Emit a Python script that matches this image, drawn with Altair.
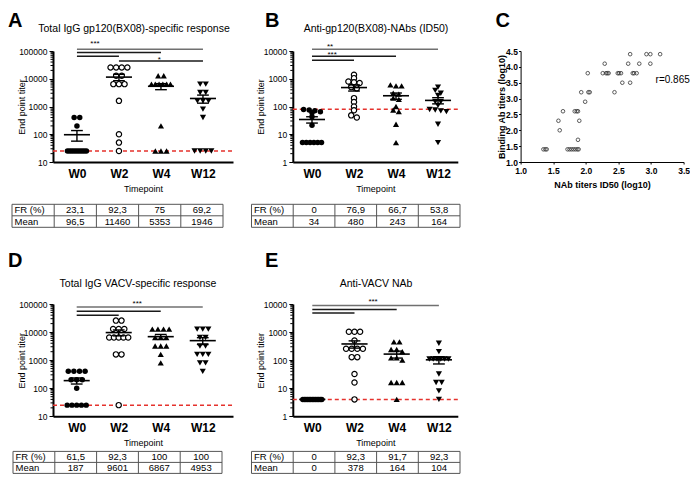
import math
import numpy as np
import pandas as pd
import altair as alt

FONT = "Liberation Sans"

timepoints = ["W0", "W2", "W4", "W12"]
row_labels = ["FR (%)", "Mean"]

# ---------------- Panel A : Total IgG gp120(BX08)-specific response
a_title = "Total IgG gp120(BX08)-specific  response"
a_w0 = [400, 400, 200, 25, 25, 25, 25, 25, 25, 25, 25, 25, 25]
a_w2 = [25600, 25600, 25600, 25600, 12800, 12800, 6400, 6400, 6400, 1600, 100, 50, 25]
a_w4 = [12800, 12800, 6400, 6400, 6400, 6400, 6400, 6400, 200, 25, 25, 25]
a_w12 = [6400, 6400, 3200, 3200, 1600, 1600, 1600, 800, 400, 25, 25, 25, 25]
a_cutoff = 25
a_fr = ["23,1", "92,3", "75", "69,2"]
a_mean = ["96,5", "11460", "5353", "1946"]
a_pairs = [(0, 3), (0, 2), (0, 1), (1, 3)]
a_stars = ["***", "*"]

# ---------------- Panel B : Anti-gp120(BX08)-NAbs (ID50)
b_title = "Anti-gp120(BX08)-NAbs (ID50)"
b_w0 = [78, 75, 70, 65, 60, 43, 21, 5, 5, 5, 5, 5, 5]
b_w2 = [1400, 1050, 800, 750, 700, 500, 450, 200, 145, 100, 73, 48, 40]
b_w4 = [600, 550, 550, 300, 280, 200, 180, 100, 75, 65, 23, 5]
b_w12 = [500, 380, 300, 250, 150, 150, 110, 78, 75, 70, 65, 23, 5]
b_cutoff = 80
b_fr = ["0", "76,9", "66,7", "53,8"]
b_mean = ["34", "480", "243", "164"]
b_pairs = [(0, 3), (0, 2), (0, 1)]
b_stars = ["**", "***"]

# ---------------- Panel C : correlation
c_nab = [1.35, 1.38, 1.40, 1.58, 1.60, 1.65, 1.72, 1.75, 1.78, 1.81, 1.84, 1.87, 1.89,
         1.83, 1.86, 1.88, 1.88, 1.90, 1.93, 1.99, 2.03, 2.04, 2.06, 2.26, 2.29, 2.31,
         2.33, 2.35, 2.44, 2.49, 2.51, 2.54, 2.56, 2.65, 2.68, 2.68, 2.72, 2.74, 2.78,
         2.82, 2.93, 2.99, 2.99, 3.14]
c_bind = [1.4, 1.4, 1.4, 2.3, 2.0, 2.6, 1.4, 1.4, 1.4, 1.4, 1.4, 1.4, 1.4,
          2.6, 2.6, 2.6, 1.7, 2.3, 3.2, 2.9, 3.8, 3.2, 3.2, 3.8, 4.1, 3.8,
          3.8, 3.8, 3.2, 3.8, 3.8, 3.8, 3.5, 4.1, 4.4, 3.5, 3.8, 3.8, 3.8,
          4.1, 4.4, 4.4, 4.1, 4.4]
c_r_text = "r=0.865"

# ---------------- Panel D : Total IgG VACV-specific response
d_title = "Total IgG VACV-specific  response"
d_w0 = [400, 400, 400, 400, 200, 200, 200, 100, 25, 25, 25, 25, 25]
d_w2 = [25600, 25600, 12800, 12800, 12800, 6400, 6400, 6400, 6400, 6400, 1600, 1600, 25]
d_w4 = [12800, 12800, 12800, 12800, 6400, 6400, 6400, 3200, 3200, 3200, 1600, 800]
d_w12 = [12800, 12800, 12800, 6400, 6400, 3200, 3200, 1600, 1600, 1600, 800, 800, 400]
d_cutoff = 25
d_fr = ["61,5", "92,3", "100", "100"]
d_mean = ["187", "9601", "6867", "4953"]
d_pairs = [(0, 3), (0, 2), (0, 1)]
d_stars = ["***"]

# ---------------- Panel E : Anti-VACV NAb
e_title = "Anti-VACV NAb"
e_w0 = [4, 4, 4, 4, 4, 4, 4, 4, 4, 4, 4, 4, 4]
e_w2 = [1024, 1024, 1024, 500, 256, 256, 256, 256, 128, 128, 32, 16, 4]
e_w4 = [450, 450, 240, 240, 200, 120, 120, 100, 16, 16, 16, 4]
e_w12 = [400, 200, 110, 110, 110, 110, 110, 110, 32, 16, 16, 8, 4]
e_cutoff = 4
e_fr = ["0", "92,3", "91,7", "92,3"]
e_mean = ["0", "378", "164", "104"]
e_pairs = [(0, 3), (0, 2), (0, 1)]
e_stars = ["***"]

# ---------------- layout (page pixels) -------------------------------------
COL_X = [53.0, 292.8, 520.0]        # plot origins of the three grid columns
COL_SP = 59.8
ROW_SP = 20.0
Y0, H0 = 50.7, 111.0                 # row of A, B, C
Y1, H1 = Y0 + H0 + ROW_SP, 101.1     # tables A, B
Y2, H2 = Y1 + H1 + ROW_SP, 112.3     # row of D, E
Y3, H3 = Y2 + H2 + ROW_SP, 36.9      # tables D, E
TOP_LETTER_Y = 10.5

LAY = {
    "A": dict(ox=COL_X[0], oy=Y0, w=180.0, h=H0, xdom=[-0.57, 3.715], ydom=[10, 100000],
              letter=(8, TOP_LETTER_Y), title=(134, 28.5), corner=True,
              sig_y=[115000, 87600, 64400, 43700], star_x=[0.43, 1.96], star_y=[146000, 41500]),
    "B": dict(ox=COL_X[1], oy=Y0, w=165.0, h=H0, xdom=[-0.457, 3.471], ydom=[1, 10000],
              letter=(265, TOP_LETTER_Y), title=(376, 28.5), corner=False,
              sig_y=[11500, 6450, 4630], star_x=[0.43, 0.48], star_y=[12200, 5990]),
    "D": dict(ox=COL_X[0], oy=Y2, w=180.0, h=H2, xdom=[-0.564, 3.72], ydom=[10, 100000],
              letter=(8, 250), title=(138, 282.5), corner=False,
              sig_y=[78900, 55400, 39900], star_x=[1.44], star_y=[86300]),
    "E": dict(ox=COL_X[1], oy=Y2, w=165.0, h=H2, xdom=[-0.462, 3.448], ydom=[1, 10000],
              letter=(265, 250), title=(376, 282.5), corner=False,
              sig_y=[8840, 6370, 4820], star_x=[1.44], star_y=[9920]),
}

SHAPES = ["circle", "circle", "triangle-up", "triangle-down"]
SIZES = [30, 30, 38, 38]


def swarm_offsets(vals, ppd, ppu, spacing=5.6, maxspan=19.0, tol=3.0):
    order = sorted(range(len(vals)), key=lambda i: -vals[i])
    rows = []
    for i in order:
        py = math.log10(vals[i]) * ppd
        if rows and abs(rows[-1][0] - py) <= tol:
            rows[-1][1].append(i)
        else:
            rows.append([py, [i]])
    off = [0.0] * len(vals)
    for _, members in rows:
        n = len(members)
        s = spacing if n <= 1 else min(spacing, maxspan / (n - 1))
        for k, i in enumerate(members):
            off[i] = (k - (n - 1) / 2) * s / ppu
    return off


def text_layer(txt, x, y, **kw):
    return alt.Chart(pd.DataFrame({"t": [txt]})).mark_text(font=FONT, color="black", **kw).encode(
        x=alt.value(x), y=alt.value(y), text="t:N")


def log_panel(key, letter, title, series, cutoff, pairs, stars):
    L = LAY[key]
    ox, oy, w, h = L["ox"], L["oy"], L["w"], L["h"]
    xmin, xmax = L["xdom"]
    ylo, yhi = L["ydom"]
    ppu = w / (xmax - xmin)
    ppd = h / (math.log10(yhi) - math.log10(ylo))

    lab_expr = "[" + ",".join("'%s'" % t for t in timepoints) + "][datum.value]"
    xe = alt.X("xpos:Q", scale=alt.Scale(domain=[xmin, xmax], nice=False, zero=False),
               axis=alt.Axis(values=[0, 1, 2, 3], labelExpr=lab_expr, title="Timepoint", grid=False,
                             ticks=False, domainColor="black", domainWidth=2, labelColor="black",
                             labelFont=FONT, labelFontSize=12, labelFontWeight="bold", labelPadding=6,
                             labelFlush=False, labelOverlap=False, titleFont=FONT, titleFontSize=9,
                             titleFontWeight="normal", titleColor="black", titlePadding=5))
    majors = []
    v = ylo
    while v <= yhi:
        majors.append(v)
        v *= 10
    minors = [m * k for m in majors[:-1] for k in range(2, 10)]
    ye = alt.Y("val:Q", scale=alt.Scale(type="log", domain=[ylo, yhi], nice=False),
               axis=alt.Axis(values=majors, format="d", title="End point titer", grid=False,
                             tickSize=4, tickColor="black", domainColor="black", domainWidth=2,
                             labelColor="black", labelFont=FONT, labelFontSize=8.5, labelPadding=2,
                             labelOverlap=False, labelFlush=False, titleFont=FONT, titleFontSize=9,
                             titleFontWeight="normal", titleColor="black", titleX=-27, titleY=h / 2,
                             titleBaseline="bottom", titleAngle=270))

    layers = []
    if L["corner"]:
        # invisible 1px mark fixing the top-left corner of the whole figure
        layers.append(alt.Chart(pd.DataFrame({"a": [0]})).mark_rect(opacity=0).encode(
            x=alt.value(8 - ox), x2=alt.value(9 - ox), y=alt.value(8 - oy), y2=alt.value(9 - oy)))
    layers.append(alt.Chart(pd.DataFrame({"val": minors})).mark_rule(color="black", strokeWidth=1).encode(
        y=ye, x=alt.value(-2.5), x2=alt.value(0)))
    layers.append(alt.Chart(pd.DataFrame({"val": [cutoff]})).mark_rule(
        color="#e5322d", strokeDash=[4, 3], strokeWidth=1.5).encode(y=ye, x=alt.value(0), x2=alt.value(w)))

    mrows, erows, crows = [], [], []
    for gi, (tp, vals) in enumerate(zip(timepoints, series)):
        offs = swarm_offsets(vals, ppd, ppu)
        df = pd.DataFrame({"xpos": [gi + o for o in offs], "val": vals})
        if gi == 1:
            mk = alt.Chart(df).mark_point(shape="circle", size=28, filled=True, fill="white",
                                          stroke="black", strokeWidth=1.2, opacity=1)
        else:
            mk = alt.Chart(df).mark_point(shape=SHAPES[gi], size=SIZES[gi], filled=True,
                                          color="black", opacity=1)
        layers.append(mk.encode(x=xe, y=ye))
        arr = np.array(vals, dtype=float)
        m = arr.mean()
        se = arr.std(ddof=1) / math.sqrt(len(arr))
        lo = max(m - se, ylo)
        mrows.append({"xpos": gi - 0.31, "xpos2": gi + 0.31, "val": m})
        erows.append({"xpos": gi, "val": lo, "val2": m + se})
        crows.append({"xpos": gi - 0.14, "xpos2": gi + 0.14, "val": lo})
        crows.append({"xpos": gi - 0.14, "xpos2": gi + 0.14, "val": m + se})

    layers.append(alt.Chart(pd.DataFrame(mrows)).mark_rule(color="black", strokeWidth=1.6).encode(
        x=xe, x2="xpos2:Q", y=ye))
    layers.append(alt.Chart(pd.DataFrame(erows)).mark_rule(color="black", strokeWidth=1.4).encode(
        x=xe, y=ye, y2="val2:Q"))
    layers.append(alt.Chart(pd.DataFrame(crows)).mark_rule(color="black", strokeWidth=1.4).encode(
        x=xe, x2="xpos2:Q", y=ye))

    sig = pd.DataFrame({"xpos": [p[0] for p in pairs], "xpos2": [p[1] for p in pairs],
                        "val": L["sig_y"]})
    layers.append(alt.Chart(sig.iloc[:1]).mark_rule(color="#707070", strokeWidth=1.5).encode(
        x=xe, x2="xpos2:Q", y=ye))
    layers.append(alt.Chart(sig.iloc[1:]).mark_rule(color="#1a1a1a", strokeWidth=1.5).encode(
        x=xe, x2="xpos2:Q", y=ye))
    st = pd.DataFrame({"xpos": L["star_x"], "val": L["star_y"], "t": stars})
    layers.append(alt.Chart(st).mark_text(font=FONT, fontSize=8, color="black", align="center",
                                          baseline="alphabetic").encode(x=xe, y=ye, text="t:N"))

    lx, ly = L["letter"]
    layers.append(text_layer(letter, lx - ox, ly - oy, fontSize=20, fontWeight="bold",
                             align="left", baseline="top"))
    tx, ty = L["title"]
    layers.append(text_layer(title, tx - ox, ty - oy, fontSize=10.5, align="center",
                             baseline="middle"))
    return alt.layer(*layers).properties(width=w, height=h)


def table_chart(fr, mean, ox, oy, W, H, left, right, top, row_h):
    # left/right/top: page pixels of the table border; cell origin (ox, oy)
    k = (right - left) / 5.0
    d0 = -(left - ox) / k
    e0 = -(top - oy) / row_h
    xs = alt.Scale(domain=[d0, d0 + W / k], nice=False, zero=False)
    ys = alt.Scale(domain=[e0, e0 + H / row_h], nice=False, zero=False, reverse=True)
    hdf = pd.DataFrame({"x": [0, 0, 0], "x2": [5, 5, 5], "y": [0, 1, 2]})
    vdf = pd.DataFrame({"x": [0, 1, 2, 3, 4, 5], "y": [0] * 6, "y2": [2] * 6})
    lab = pd.DataFrame({"x": [0, 0], "y": [0.5, 1.5], "t": row_labels})
    vals = pd.DataFrame({"x": [1.5, 2.5, 3.5, 4.5] * 2, "y": [0.5] * 4 + [1.5] * 4, "t": fr + mean})
    X = alt.X("x:Q", scale=xs, axis=None)
    Y = alt.Y("y:Q", scale=ys, axis=None)
    layers = [
        alt.Chart(hdf).mark_rule(color="#555", strokeWidth=1).encode(x=X, x2="x2:Q", y=Y),
        alt.Chart(vdf).mark_rule(color="#555", strokeWidth=1).encode(x=X, y=Y, y2="y2:Q"),
        alt.Chart(lab).mark_text(font=FONT, fontSize=9.5, color="black", align="left", dx=2.5,
                                 baseline="middle").encode(x=X, y=Y, text="t:N"),
        alt.Chart(vals).mark_text(font=FONT, fontSize=9.5, color="black", align="center",
                                  baseline="middle").encode(x=X, y=Y, text="t:N"),
    ]
    return alt.layer(*layers).properties(width=W, height=H)


def corr_panel():
    ox, oy, w, h = COL_X[2], Y0, 163.0, H0
    ticks_x = [1.0, 1.5, 2.0, 2.5, 3.0, 3.5]
    ticks_y = [1.0, 1.5, 2.0, 2.5, 3.0, 3.5, 4.0, 4.5]
    xe = alt.X("cx:Q", scale=alt.Scale(domain=[1.0, 3.5], nice=False, zero=False),
               axis=alt.Axis(values=ticks_x, format=".1f", title="NAb titers ID50 (log10)", grid=False,
                             tickSize=2, tickColor="black", domainColor="black", domainWidth=1,
                             labelColor="black", labelFont=FONT, labelFontSize=8.5,
                             labelFontWeight="bold", labelPadding=2.5, labelFlush=False,
                             labelOverlap=False, titleFont=FONT, titleFontSize=9,
                             titleFontWeight="bold", titleColor="black", titlePadding=5))
    ye = alt.Y("cy:Q", scale=alt.Scale(domain=[1.0, 4.5], nice=False, zero=False),
               axis=alt.Axis(values=ticks_y, format=".1f", title="Binding Ab titers (log10)", grid=False,
                             tickSize=2, tickColor="black", domainColor="black", domainWidth=1,
                             labelColor="black", labelFont=FONT, labelFontSize=8.5,
                             labelFontWeight="bold", labelPadding=1.2, labelFlush=False,
                             labelOverlap=False, titleFont=FONT, titleFontSize=9,
                             titleFontWeight="bold", titleColor="black", titleX=-14.5, titleY=h / 2,
                             titleBaseline="bottom", titleAngle=270))
    pts = pd.DataFrame({"cx": c_nab, "cy": c_bind})
    layers = [
        alt.Chart(pts).mark_point(shape="circle", size=13, filled=False, color="#333",
                                  strokeWidth=0.8, opacity=1).encode(x=xe, y=ye),
        alt.Chart(pd.DataFrame({"cx": [3.07], "cy": [3.576], "t": [c_r_text]})).mark_text(
            font=FONT, fontSize=10, color="black", align="left", baseline="middle").encode(
            x=xe, y=ye, text="t:N"),
        text_layer("C", 495 - ox, TOP_LETTER_Y - oy, fontSize=20, fontWeight="bold",
                   align="left", baseline="top"),
    ]
    return alt.layer(*layers).properties(width=w, height=h)


def spacer():
    return alt.Chart(pd.DataFrame({"a": [0]})).mark_rect(opacity=0).encode(
        x=alt.value(0), x2=alt.value(1), y=alt.value(0), y2=alt.value(1)).properties(width=1, height=1)


pA = log_panel("A", "A", a_title, [a_w0, a_w2, a_w4, a_w12], a_cutoff, a_pairs, a_stars)
pB = log_panel("B", "B", b_title, [b_w0, b_w2, b_w4, b_w12], b_cutoff, b_pairs, b_stars)
pD = log_panel("D", "D", d_title, [d_w0, d_w2, d_w4, d_w12], d_cutoff, d_pairs, d_stars)
pE = log_panel("E", "E", e_title, [e_w0, e_w2, e_w4, e_w12], e_cutoff, e_pairs, e_stars)
pC = corr_panel()

COLW1 = COL_X[2] - COL_SP - COL_X[1]
tA = table_chart(a_fr, a_mean, COL_X[0], Y1, 180.0, H1, 12, 223, 204, 11.5)
tB = table_chart(b_fr, b_mean, COL_X[1], Y1, COLW1, H1, 251.5, 460, 204, 11.5)
tD = table_chart(d_fr, d_mean, COL_X[0], Y3, 180.0, H3, 13, 222, 449.5, 11)
tE = table_chart(e_fr, e_mean, COL_X[1], Y3, COLW1, H3, 251.5, 460, 449.5, 11)

chart = alt.concat(
    pA, pB, pC,
    tA, tB, spacer(),
    pD, pE, spacer(),
    tD, tE, spacer(),
    columns=3,
).properties(
    spacing={"row": ROW_SP, "column": COL_SP},
    bounds="flush",
    align="each",
    padding=0,
).configure(font=FONT).configure_view(strokeWidth=0)

chart.save("out.html", embed_options={"renderer": "svg", "actions": False})
